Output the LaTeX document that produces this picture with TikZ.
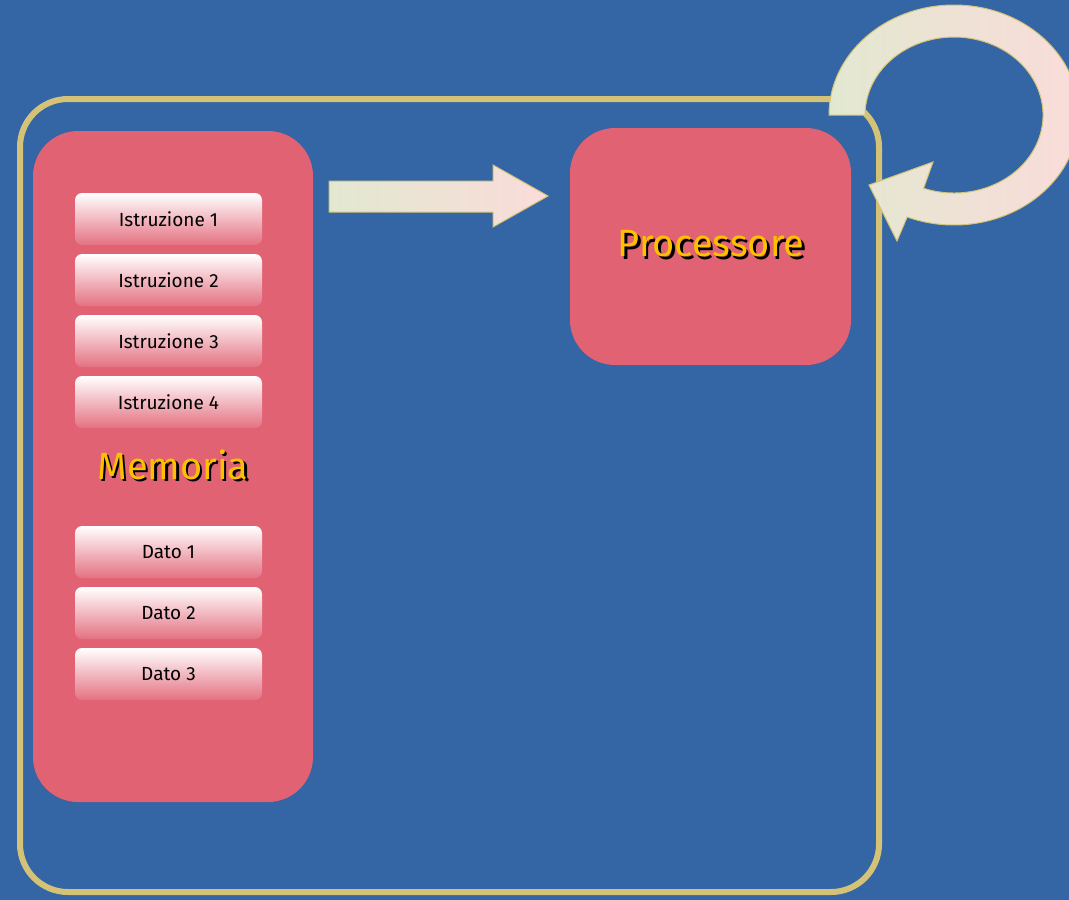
\documentclass[tikz,border=0pt]{standalone}
\usepackage{fontspec}
\setmainfont{Fira Sans}
\definecolor{sfondo}{RGB}{52,101,164}
\definecolor{cornice}{RGB}{212,195,118}
\definecolor{rosa}{RGB}{224,98,115}
\definecolor{rosachiaro}{RGB}{228,114,130}
\definecolor{giallo}{RGB}{255,192,0}
\definecolor{verdino}{RGB}{226,232,208}
\definecolor{pesca}{RGB}{250,220,218}
\newcommand\ombreggiato[1]{\rlap{\kern2.5pt\raisebox{-2.5pt}{\color{black}#1}}#1}
\tikzset{
  blocco/.style={fill=rosa, rounded corners=45pt, inner sep=0pt},
  cella/.style={top color=white, bottom color=rosachiaro, rounded corners=7pt,
    minimum width=187pt, minimum height=52pt, inner sep=0pt,
    font=\fontsize{19}{22}\selectfont},
  titolo/.style={text=giallo, font=\fontsize{38}{44}\selectfont}
}
\begin{document}
\begin{tikzpicture}[x=1pt,y=1pt]
\fill[sfondo] (0,0) rectangle (1069,-900);
\useasboundingbox (0,0) rectangle (1069,-900);
% cornice esterna
\draw[cornice, line width=6pt, rounded corners=48pt] (20,-99) rectangle (879,-892);
% memoria
\node[blocco, minimum width=280pt, minimum height=671pt] (memoria) at (173,-466.5) {};
\foreach \i/\y in {1/219,2/280,3/341,4/402}
  \node[cella] (istr\i) at (168.5,-\y) {Istruzione \i};
\foreach \i/\y in {1/552,2/613,3/674}
  \node[cella] (dato\i) at (168.5,-\y) {Dato \i};
\node[titolo] (memorialabel) at (173,-466) {\ombreggiato{Memoria}};
% processore
\node[blocco, minimum width=281pt, minimum height=237pt] (processore) at (710.5,-246.5) {};
\node[titolo] (proclabel) at (711,-245) {\ombreggiato{Processore}};
% freccia memoria -> processore
\draw[draw=cornice, line width=1pt, left color=verdino, right color=pesca]
  (329,-181) -- (493,-181) -- (493,-165) -- (548,-196)
  -- (493,-227) -- (493,-212) -- (329,-212) -- cycle;
% freccia circolare
\draw[draw=cornice, line width=1pt, left color=verdino, right color=pesca]
  (829,-115) arc[start angle=180, end angle=-112, x radius=125, y radius=110]
  -- (897,-241) -- (869,-185) -- (933,-162) -- (923.6,-188.3)
  arc[start angle=-110, end angle=180, x radius=89, y radius=78] -- cycle;
\end{tikzpicture}
\end{document}
